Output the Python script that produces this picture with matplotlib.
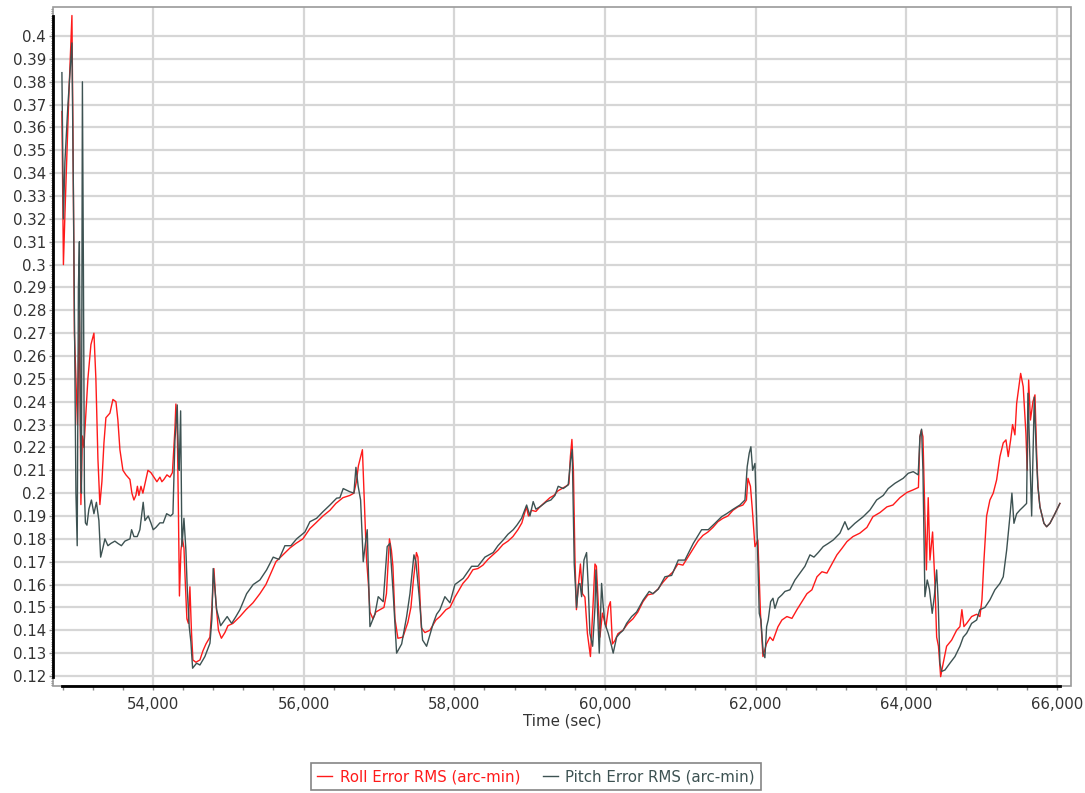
import matplotlib
matplotlib.use("Agg")
import matplotlib.pyplot as plt
from matplotlib.ticker import MultipleLocator, FuncFormatter
from matplotlib.patches import Rectangle

# Roll error RMS (arc-min) vs time (sec)
roll_t = [52792, 52812, 52832, 52885, 52925, 52938, 52958, 52978, 52998, 53024,
          53044, 53064, 53084, 53111, 53137, 53177, 53217, 53243, 53270, 53296,
          53323, 53350, 53376, 53429, 53469, 53509, 53535, 53562, 53602, 53642,
          53668, 53695, 53721, 53748, 53774, 53794, 53814, 53841, 53867, 53894,
          53934, 53973, 54013, 54053, 54093, 54119, 54146, 54186, 54226, 54259,
          54292, 54305, 54325, 54339, 54352, 54372, 54392, 54412, 54431, 54451,
          54471, 54491, 54511, 54531, 54571, 54624, 54664, 54704, 54757, 54783,
          54810, 54836, 54870, 54909, 54956, 54996, 55062, 55155, 55235, 55328,
          55420, 55500, 55553, 55633, 55726, 55819, 55898, 55991, 56084, 56164,
          56257, 56350, 56429, 56522, 56615, 56668, 56701, 56728, 56781, 56808,
          56834, 56861, 56881, 56921, 56960, 57013, 57067, 57100, 57140, 57166,
          57186, 57213, 57252, 57319, 57385, 57425, 57458, 57498, 57518, 57538,
          57564, 57611, 57677, 57757, 57810, 57890, 57943, 58009, 58115, 58182,
          58248, 58314, 58381, 58447, 58514, 58580, 58646, 58713, 58779, 58845,
          58898, 58958, 58985, 59025, 59084, 59137, 59204, 59270, 59323, 59376,
          59429, 59483, 59522, 59542, 59562, 59582, 59602, 59622, 59649, 59675,
          59702, 59735, 59768, 59808, 59841, 59868, 59887, 59914, 59934, 59967,
          60014, 60047, 60073, 60100, 60133, 60173, 60239, 60306, 60372, 60438,
          60505, 60571, 60638, 60704, 60770, 60837, 60903, 60969, 61036, 61102,
          61169, 61235, 61301, 61368, 61434, 61500, 61567, 61633, 61700, 61766,
          61832, 61879, 61899, 61932, 61958, 61992, 62031, 62065, 62098, 62144,
          62191, 62231, 62297, 62350, 62416, 62483, 62549, 62615, 62682, 62748,
          62815, 62881, 62947, 63014, 63080, 63146, 63213, 63293, 63385, 63478,
          63558, 63651, 63744, 63824, 63916, 64009, 64089, 64162, 64182, 64202,
          64222, 64248, 64268, 64292, 64315, 64350, 64381, 64404, 64428, 64457,
          64491, 64536, 64603, 64669, 64713, 64739, 64766, 64802, 64868, 64935,
          64978, 65005, 65032, 65067, 65111, 65155, 65200, 65244, 65288, 65324,
          65354, 65386, 65412, 65443, 65466, 65519, 65553, 65589, 65606, 65625,
          65649, 65682, 65709, 65729, 65748, 65775, 65828, 65864, 65908, 65974,
          66040]
roll_v = [0.367, 0.300, 0.322, 0.375, 0.409, 0.360, 0.270, 0.250, 0.230, 0.280,
          0.195, 0.225, 0.220, 0.235, 0.250, 0.265, 0.270, 0.250, 0.215, 0.195,
          0.205, 0.222, 0.233, 0.235, 0.241, 0.240, 0.232, 0.219, 0.210, 0.208,
          0.207, 0.206, 0.200, 0.197, 0.199, 0.203, 0.199, 0.203, 0.200, 0.204,
          0.210, 0.209, 0.207, 0.205, 0.207, 0.205, 0.206, 0.208, 0.207, 0.209,
          0.228, 0.239, 0.225, 0.191, 0.155, 0.175, 0.180, 0.176, 0.160, 0.145,
          0.143, 0.159, 0.140, 0.127, 0.126, 0.127, 0.131, 0.134, 0.137, 0.150,
          0.167, 0.152, 0.140, 0.1365, 0.139, 0.142, 0.143, 0.146, 0.149, 0.152,
          0.156, 0.160, 0.164, 0.170, 0.173, 0.176, 0.178, 0.180, 0.1845, 0.187,
          0.190, 0.1925, 0.1955, 0.198, 0.199, 0.200, 0.205, 0.212, 0.219, 0.195,
          0.172, 0.160, 0.148, 0.145, 0.148, 0.149, 0.150, 0.156, 0.180, 0.175,
          0.168, 0.145, 0.1365, 0.137, 0.1435, 0.150, 0.162, 0.174, 0.172, 0.159,
          0.141, 0.139, 0.140, 0.1445, 0.146, 0.149, 0.150, 0.1545, 0.1605, 0.163,
          0.1665, 0.167, 0.1685, 0.171, 0.173, 0.175, 0.1775, 0.179, 0.181, 0.184,
          0.187, 0.194, 0.190, 0.1925, 0.192, 0.194, 0.196, 0.198, 0.199, 0.201,
          0.202, 0.203, 0.204, 0.216, 0.2235, 0.210, 0.172, 0.149, 0.160, 0.169,
          0.156, 0.1545, 0.1385, 0.1285, 0.150, 0.169, 0.168, 0.150, 0.137, 0.1475,
          0.1415, 0.150, 0.1525, 0.134, 0.1355, 0.1385, 0.140, 0.143, 0.145, 0.148,
          0.1525, 0.1555, 0.156, 0.158, 0.161, 0.1635, 0.1655, 0.169, 0.1685, 0.172,
          0.1755, 0.179, 0.1815, 0.183, 0.185, 0.1875, 0.189, 0.190, 0.1925, 0.194,
          0.1948, 0.197, 0.2065, 0.203, 0.1925, 0.1766, 0.1795, 0.1475, 0.1285, 0.134,
          0.137, 0.1355, 0.1415, 0.1445, 0.146, 0.1452, 0.149, 0.1525, 0.156, 0.1577,
          0.1634, 0.1656, 0.165, 0.169, 0.173, 0.1758, 0.1788, 0.181, 0.1825, 0.185,
          0.1897, 0.1915, 0.194, 0.1948, 0.198, 0.2003, 0.2014, 0.2025, 0.2247, 0.2276,
          0.2247, 0.190, 0.1664, 0.198, 0.1707, 0.183, 0.1605, 0.137, 0.133, 0.1197,
          0.1256, 0.133, 0.1357, 0.140, 0.1416, 0.149, 0.1416, 0.143, 0.146, 0.147,
          0.146, 0.1533, 0.1707, 0.190, 0.197, 0.200, 0.2058, 0.216, 0.222, 0.2233,
          0.216, 0.2233, 0.230, 0.2255, 0.2393, 0.2524, 0.2466, 0.226, 0.210, 0.2495,
          0.232, 0.240, 0.243, 0.220, 0.203, 0.194, 0.1868, 0.1853, 0.1868, 0.191,
          0.1955]

# Pitch error RMS (arc-min) vs time (sec)
pitch_t = [52792, 52812, 52832, 52872, 52925, 52945, 52965, 52978, 52995, 53011,
           53024, 53038, 53051, 53064, 53077, 53091, 53104, 53124, 53150, 53184,
           53217, 53250, 53283, 53306, 53336, 53363, 53403, 53442, 53495, 53535,
           53582, 53628, 53695, 53717, 53748, 53792, 53827, 53871, 53894, 53938,
           53973, 54004, 54040, 54093, 54137, 54182, 54235, 54266, 54292, 54323,
           54339, 54349, 54368, 54385, 54412, 54438, 54455, 54482, 54504, 54527,
           54580, 54624, 54690, 54757, 54783, 54800, 54846, 54899, 54943, 54986,
           55045, 55102, 55155, 55244, 55331, 55420, 55509, 55597, 55673, 55752,
           55832, 55908, 56018, 56084, 56173, 56261, 56350, 56439, 56482, 56526,
           56615, 56668, 56695, 56725, 56757, 56792, 56821, 56845, 56881, 56947,
           56991, 57057, 57110, 57146, 57190, 57235, 57302, 57368, 57412, 57465,
           57491, 57535, 57580, 57633, 57721, 57766, 57810, 57876, 57943, 58009,
           58119, 58231, 58314, 58407, 58517, 58580, 58650, 58713, 58783, 58832,
           58894, 58961, 59005, 59048, 59084, 59137, 59226, 59283, 59337, 59380,
           59447, 59513, 59545, 59566, 59593, 59624, 59649, 59669, 59691, 59722,
           59757, 59779, 59801, 59837, 59868, 59881, 59901, 59925, 59956, 59974,
           60000, 60044, 60089, 60110, 60156, 60199, 60243, 60288, 60355, 60421,
           60509, 60588, 60638, 60708, 60797, 60886, 60974, 61062, 61173, 61284,
           61372, 61461, 61550, 61616, 61704, 61792, 61859, 61889, 61916, 61938,
           61961, 61992, 62022, 62049, 62071, 62102, 62124, 62147, 62168, 62200,
           62231, 62257, 62301, 62350, 62390, 62456, 62523, 62589, 62655, 62722,
           62775, 62832, 62898, 62965, 63031, 63120, 63186, 63230, 63319, 63429,
           63518, 63607, 63695, 63761, 63850, 63960, 64027, 64093, 64159, 64182,
           64204, 64222, 64248, 64279, 64308, 64345, 64374, 64404, 64425, 64447,
           64470, 64514, 64580, 64647, 64713, 64757, 64802, 64868, 64935, 64978,
           65045, 65111, 65177, 65244, 65288, 65333, 65377, 65403, 65430, 65466,
           65509, 65553, 65598, 65616, 65642, 65665, 65700, 65729, 65748, 65775,
           65828, 65864, 65908, 65974, 66040]
pitch_v = [0.384, 0.320, 0.345, 0.370, 0.397, 0.330, 0.250, 0.200, 0.177, 0.290,
           0.310, 0.230, 0.200, 0.380, 0.300, 0.200, 0.187, 0.186, 0.193, 0.197,
           0.191, 0.196, 0.188, 0.172, 0.176, 0.180, 0.177, 0.178, 0.179, 0.178,
           0.177, 0.179, 0.180, 0.184, 0.181, 0.181, 0.184, 0.196, 0.188, 0.190,
           0.187, 0.184, 0.185, 0.187, 0.187, 0.191, 0.190, 0.191, 0.223, 0.2386,
           0.215, 0.210, 0.236, 0.1766, 0.189, 0.175, 0.159, 0.1416, 0.135, 0.1234,
           0.1256, 0.1248, 0.1285, 0.1343, 0.145, 0.167, 0.149, 0.142, 0.144, 0.146,
           0.143, 0.146, 0.149, 0.156, 0.160, 0.162, 0.1664, 0.172, 0.171, 0.177,
           0.177, 0.180, 0.183, 0.1875, 0.189, 0.192, 0.1948, 0.1978, 0.198, 0.202,
           0.2006, 0.200, 0.2113, 0.203, 0.197, 0.170, 0.178, 0.184, 0.1416, 0.147,
           0.1547, 0.1525, 0.1766, 0.178, 0.156, 0.130, 0.134, 0.146, 0.156, 0.173,
           0.170, 0.1547, 0.1357, 0.133, 0.143, 0.147, 0.149, 0.1547, 0.152, 0.160,
           0.1627, 0.168, 0.168, 0.172, 0.174, 0.177, 0.1795, 0.182, 0.184, 0.186,
           0.189, 0.1948, 0.190, 0.1963, 0.193, 0.194, 0.1963, 0.197, 0.199, 0.203,
           0.202, 0.2036, 0.2145, 0.219, 0.169, 0.150, 0.160, 0.1605, 0.1547, 0.1707,
           0.174, 0.159, 0.1387, 0.133, 0.150, 0.1664, 0.150, 0.130, 0.1605, 0.152,
           0.143, 0.1387, 0.133, 0.130, 0.137, 0.1387, 0.140, 0.143, 0.146, 0.148,
           0.1533, 0.157, 0.156, 0.158, 0.1634, 0.164, 0.1707, 0.1707, 0.178, 0.184,
           0.184, 0.1868, 0.1897, 0.191, 0.193, 0.1948, 0.197, 0.2116, 0.2175, 0.2203,
           0.210, 0.213, 0.181, 0.1474, 0.1445, 0.130, 0.128, 0.1416, 0.1445, 0.1525,
           0.154, 0.1496, 0.154, 0.1555, 0.157, 0.1577, 0.162, 0.165, 0.168, 0.173,
           0.172, 0.174, 0.1766, 0.178, 0.1795, 0.1825, 0.1875, 0.184, 0.1868, 0.1897,
           0.1926, 0.197, 0.199, 0.202, 0.2043, 0.2065, 0.2087, 0.2094, 0.208, 0.2247,
           0.228, 0.210, 0.1547, 0.162, 0.158, 0.1474, 0.155, 0.1664, 0.152, 0.1256,
           0.122, 0.1226, 0.1256, 0.1285, 0.133, 0.137, 0.1387, 0.143, 0.1445, 0.149,
           0.150, 0.1533, 0.1577, 0.1605, 0.1634, 0.175, 0.190, 0.200, 0.1868, 0.191,
           0.1926, 0.194, 0.1955, 0.2437, 0.215, 0.190, 0.242, 0.215, 0.203, 0.194,
           0.1868, 0.1853, 0.1868, 0.191, 0.1955]

roll_label = "Roll Error RMS (arc-min)"
pitch_label = "Pitch Error RMS (arc-min)"
y_ticks = [round(0.12 + 0.01 * i, 2) for i in range(29)]   # 0.12 .. 0.40
roll_color = "#ff1a1a"
pitch_color = "#3d5252"
text_color = "#333333"

plt.rcParams['font.family'] = ['DejaVu Sans']

fig = plt.figure(figsize=(10.85, 7.93), dpi=100)
ax = fig.add_axes([0.0488, 0.1349, 0.9382, 0.8562])

ax.plot(roll_t, roll_v, color=roll_color, lw=1.0, label=roll_label, zorder=3)
ax.plot(pitch_t, pitch_v, color=pitch_color, lw=1.0, label=pitch_label, zorder=4)

ax.set_xlim(52673, 66186)
ax.set_ylim(0.1156, 0.4127)

# grid and ticks
ax.xaxis.set_major_locator(MultipleLocator(2000))
ax.xaxis.set_minor_locator(MultipleLocator(400))
ax.set_yticks(y_ticks)
ax.yaxis.set_minor_locator(MultipleLocator(0.001))
ax.xaxis.set_major_formatter(FuncFormatter(lambda v, p: f"{int(round(v)):,}"))
ax.yaxis.set_major_formatter(FuncFormatter(lambda v, p: f"{v:.2f}".rstrip('0').rstrip('.')))
ax.grid(True, which='major', color='#d6d6d6', lw=1.6, zorder=0)
ax.set_axisbelow(True)

ax.tick_params(axis='both', which='both', direction='out', color='#8a8a8a', labelcolor=text_color, labelsize=10.8)
ax.tick_params(axis='y', which='major', length=3, width=1, pad=2)
ax.tick_params(axis='y', which='minor', length=1.8, width=0.8)
ax.tick_params(axis='x', which='major', length=3, width=1, pad=5)
ax.tick_params(axis='x', which='minor', length=3, width=1)

# axis lines span the data, gray frame around the plot area
all_t = roll_t + pitch_t
all_v = roll_v + pitch_v
for s in ['top', 'right']:
    ax.spines[s].set_visible(False)
ax.spines['left'].set_color('black')
ax.spines['left'].set_linewidth(2)
ax.spines['left'].set_bounds(min(all_v), max(all_v))
ax.spines['bottom'].set_color('black')
ax.spines['bottom'].set_linewidth(2)
ax.spines['bottom'].set_bounds(min(all_t), max(all_t))
ax.add_patch(Rectangle((0, 0), 1, 1, transform=ax.transAxes, fill=False,
                       edgecolor='#9a9a9a', lw=1.2, clip_on=False, zorder=1))

ax.set_xlabel("Time (sec)", fontsize=10.8, color=text_color, labelpad=1)

leg = fig.legend(loc='center', bbox_to_anchor=(0.494, 0.0202), ncol=2,
                 fontsize=10.8, frameon=True, fancybox=False, edgecolor='#666666',
                 handlelength=1.0, handletextpad=0.5, columnspacing=1.5,
                 borderpad=0.4, borderaxespad=0.0)
leg.get_frame().set_linewidth(1.2)
for txt, c in zip(leg.get_texts(), [roll_color, pitch_color]):
    txt.set_color(c)

fig.savefig("out.png", dpi=100, facecolor='white')
